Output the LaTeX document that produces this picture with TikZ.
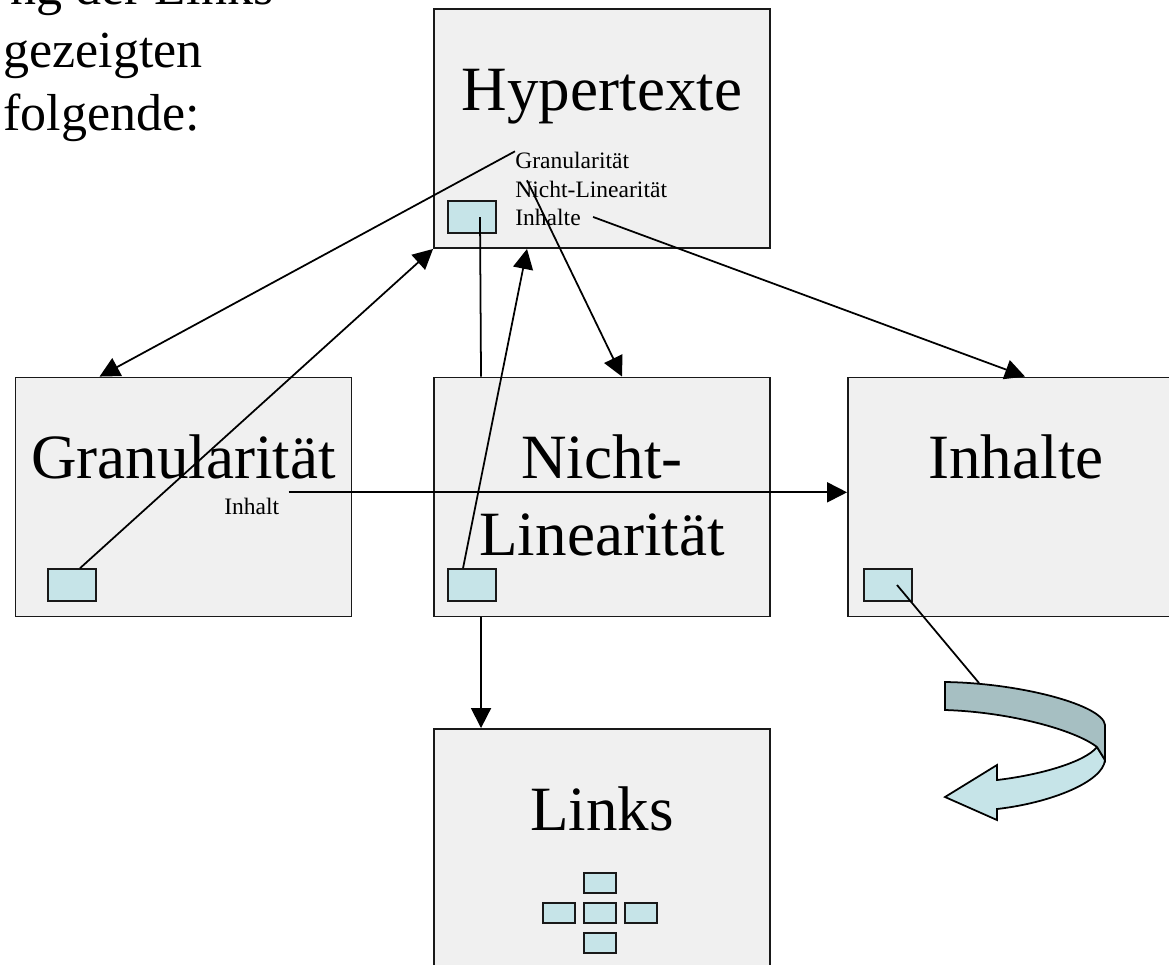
\documentclass[tikz,border=0pt]{standalone}
\usepackage{fontspec}
\setmainfont{Liberation Serif}
\usetikzlibrary{arrows.meta}
\definecolor{panelgrau}{HTML}{F0F0F0}
\definecolor{knopfblau}{HTML}{C6E4E8}
\definecolor{bogendunkel}{HTML}{A6BFC2}
\begin{document}
\begin{tikzpicture}[x=0.02cm, y=-0.02cm,
        panel/.style={draw=black!90, line width=1.1pt, fill=panelgrau, inner sep=0pt, minimum width=6.72cm, minimum height=4.78cm},
        knopf/.style={draw=black!90, line width=0.9pt, fill=knopfblau, inner sep=0pt, minimum width=0.96cm, minimum height=0.64cm},
        miniknopf/.style={knopf, minimum width=0.64cm, minimum height=0.4cm},
        gross/.style={font=\fontsize{35.9pt}{43.8pt}\selectfont, inner sep=0pt, anchor=base},
        mittel/.style={font=\fontsize{29.6pt}{35.9pt}\selectfont, inner sep=0pt, anchor=base west},
        klein/.style={font=\fontsize{13.4pt}{16.2pt}\selectfont, inner sep=0pt, anchor=base west},
        pfeil/.style={line width=1pt, -{Triangle[length=0.4cm,width=0.4cm]}},
        linie/.style={line width=1pt}]
                        \clip (0,0) rectangle (1169,964);

                        \node[mittel] (zeile1) at (10,4) {ng der Links};
                        \node[mittel] (zeile2) at (3,67) {gezeigten};
                        \node[mittel] (zeile3) at (3,130) {folgende:};

                        \node[panel] (hyp) at (602,128.5) {};
                        \node[panel] (gran) at (183.5,497) {};
                        \node[panel] (nicht) at (602,497) {};
                        \node[panel] (inh) at (1016,497) {};
                        \node[panel] (links) at (602,848.5) {};

                        \node[gross] (hyptext) at (602,110) {Hypertexte};
                        \node[gross] (grantext) at (183.5,478) {Granularität};
                        \node[gross] (nichttext1) at (602,478) {Nicht-};
                        \node[gross] (nichttext2) at (602,555) {Linearität};
                        \node[gross] (inhtext) at (1016,478) {Inhalte};
                        \node[gross] (linkstext) at (602,830) {Links};

                        \node[klein] (hypgran) at (515,168) {Granularität};
                        \node[klein] (hypnicht) at (515,197) {Nicht-Linearität};
                        \node[klein] (hypinh) at (515,225) {Inhalte};
                        \node[klein] (granlbl) at (224,514) {Inhalt};

                        \node[knopf] (hypbtn) at (472,217) {};
                        \node[knopf] (granbtn) at (72,585) {};
                        \node[knopf] (nichtbtn) at (472,585) {};
                        \node[knopf] (inhbtn) at (888,585) {};

                        \foreach \dx/\dy [count=\i] in {0/-30, -41/0, 0/0, 41/0, 0/30}
                            \node[miniknopf] (mini\i) at (600+\dx,913+\dy) {};

                        \fill[knopfblau, draw=black, line width=1pt] (1097,747) -- (1105,760)
                            .. controls (1103,782) and (1050,803) .. (997,809) -- (997,820) -- (945,797) -- (997,765) -- (997,780)
                            .. controls (1040,775) and (1085,762) .. (1097,747) -- cycle;
                        \fill[bogendunkel, draw=black, line width=1pt] (945,682)
                            .. controls (1020,683) and (1103,705) .. (1105,725) -- (1105,760) -- (1097,747)
                            .. controls (1075,730) and (1010,712) .. (945,710) -- cycle;
                        \coordinate (bogen) at (979,683);

                        \draw[pfeil] (hypgran.north west) -- ([xshift=1.7cm]gran.north west);
                        \draw[pfeil] ([xshift=0.16cm]granbtn.north) -- (hyp.south west);
                        \draw[linie] ([xshift=0.16cm]hypbtn.center) -- ([xshift=-2.42cm]nicht.north);
                        \draw[pfeil] ([xshift=-0.18cm]nichtbtn.north) -- ([xshift=-1.5cm]hyp.south);
                        \draw[pfeil] ([xshift=0.24cm]hypnicht.north west) -- ([xshift=0.4cm]nicht.north);
                        \draw[pfeil] ([xshift=0.24cm]hypinh.east) -- ([xshift=0.18cm]inh.north);
                        \coordinate (inhaltstart) at ([xshift=0.18cm,yshift=0.1cm]granlbl.north east);
                        \draw[pfeil] (inhaltstart) -- (inhaltstart -| inh.west);
                        \draw[pfeil] ([xshift=-2.42cm]nicht.south) -- ([xshift=-2.42cm]links.north);
                        \draw[linie] ([xshift=0.18cm]inhbtn.center) -- (bogen);
                    \end{tikzpicture}
\end{document}
